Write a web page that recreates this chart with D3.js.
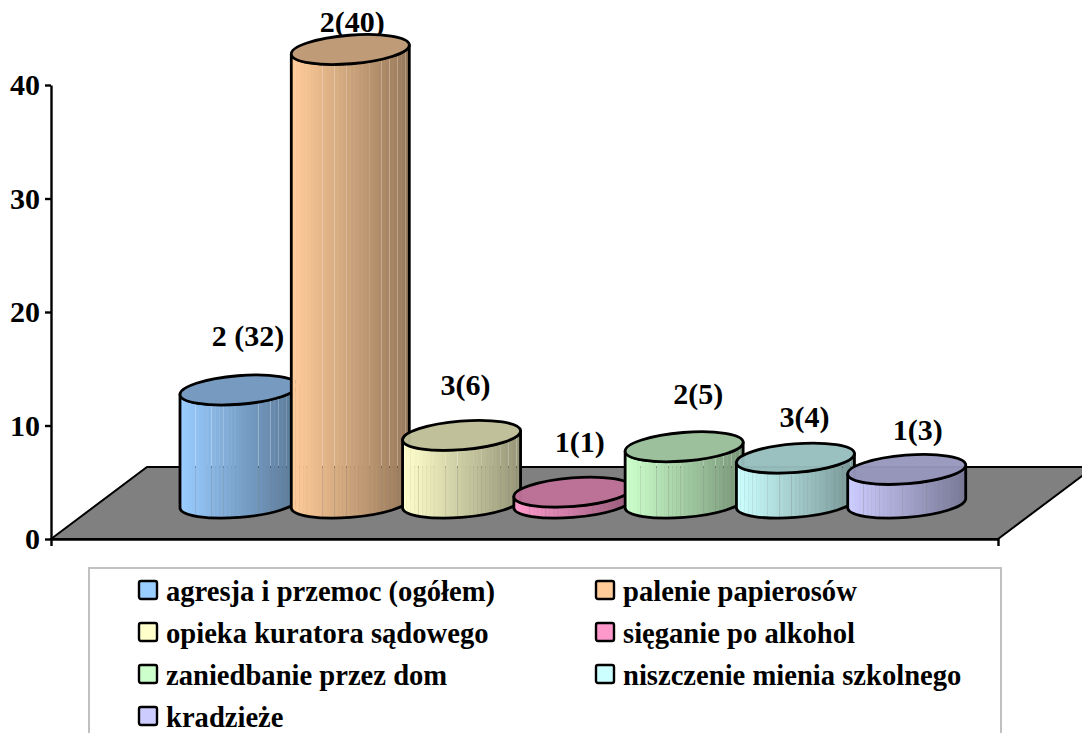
<!DOCTYPE html>
<html>
<head>
<meta charset="utf-8">
<script src="https://cdn.jsdelivr.net/npm/d3@7"></script>
<style>
html, body { margin: 0; padding: 0; background: #fff; overflow: hidden; }
text { font-family: "Liberation Serif", "Times New Roman", serif; font-weight: bold; fill: #000; }
</style>
</head>
<body>
<div id="chart"></div>
<script>
// values
var categories = ["agresja i przemoc (ogółem)", "palenie papierosów", "opieka kuratora sądowego",
    "sięganie po alkohol", "zaniedbanie przez dom", "niszczenie mienia szkolnego", "kradzieże"];
var values = [10, 40, 6, 1, 5, 4, 3];
var labels = ["2 (32)", "2(40)", "3(6)", "1(1)", "2(5)", "3(4)", "1(3)"];
var colors = ["#99CCFF", "#FFCC99", "#FFFFCC", "#FF99CC", "#CCFFCC", "#CCFFFF", "#CCCCFF"];
var yTicks = [0, 10, 20, 30, 40];

var width = 1082, height = 733;
var svg = d3.select("#chart").append("svg")
    .attr("width", width)
    .attr("height", height)
    .style("display", "block");

var y = d3.scaleLinear().domain([0, 40]).range([539, 85]);
var x = d3.scaleBand().domain(categories).range([180, 959]);
var floorX = d3.scaleLinear().range([51, 998]);

// floor
var floorDepth = { dx: 96, dy: 72 };
var y0 = y(0);
svg.append("path")
    .attr("d", d3.line()([[51, y0], [51 + floorDepth.dx, y0 - floorDepth.dy],
        [998 + floorDepth.dx, y0 - floorDepth.dy], [998, y0]]) + "Z")
    .attr("fill", "#808080")
    .attr("stroke", "#000")
    .attr("stroke-width", 2);

// axes
var axisY = svg.append("g")
    .attr("transform", "translate(51,0)")
    .call(d3.axisLeft(y).tickValues(yTicks).tickFormat(d3.format("d")).tickSize(6).tickSizeOuter(0).tickPadding(5));
axisY.selectAll("text").attr("font-size", 30).style("font-family", "Liberation Serif").style("font-weight", "bold");
var axisX = svg.append("g")
    .attr("transform", "translate(0," + y0 + ")")
    .call(d3.axisBottom(floorX).tickValues([]).tickSizeOuter(7));
svg.selectAll(".domain, .tick line").attr("stroke", "#000").attr("stroke-width", 2.4);

// data labels (behind the cylinders, 2(40) runs into its top)
var labelDx = [9, 2, 4, 7, 14, 9, 11];
var labelGap = [44.5, 18, 40.5, 40, 42.5, 31.5, 29.5];

var cylW = 59, cylB = 14.3, tilt = -4.6, lean = 4.5;
var baseY = y0 - 35.5;
var cx = function(d) { return x(d) + cylW; };
var barH = function(v) { return y0 - y(v); };

svg.append("g").selectAll("text")
    .data(categories)
    .enter().append("text")
    .attr("x", function(d, i) { return cx(d) + labelDx[i]; })
    .attr("y", function(d, i) { return baseY - barH(values[i]) - labelGap[i]; })
    .attr("text-anchor", "middle")
    .attr("font-size", 30)
    .text(function(d, i) { return labels[i]; });

// cylinders, later ones sit over earlier ones
var nStrips = 30;
var seams = [3, 7, 10, 13, 19, 22, 24, 26, 28];
var defs = svg.append("defs");

function sidePath(c, top) {
    var a = cylW + 0.2;
    return "M" + (c - cylW) + "," + (top + lean)
        + "L" + (c - cylW) + "," + (baseY + lean)
        + "A" + a + "," + cylB + " " + tilt + " 0 0 " + (c + cylW) + "," + (baseY - lean)
        + "L" + (c + cylW) + "," + (top - lean)
        + "A" + a + "," + cylB + " " + tilt + " 0 1 " + (c - cylW) + "," + (top + lean) + "Z";
}

categories.forEach(function(cat, i) {
    var c = cx(cat);
    var top = baseY - barH(values[i]);
    var g = svg.append("g");
    var shade = d3.interpolateRgb(colors[i], "#000");

    defs.append("clipPath").attr("id", "side" + i)
        .append("path").attr("d", sidePath(c, top));

    var stripW = (cylW * 2) / nStrips;
    g.append("g").attr("clip-path", "url(#side" + i + ")")
        .selectAll("rect")
        .data(d3.range(nStrips))
        .enter().append("rect")
        .attr("x", function(k) { return c - cylW + k * stripW; })
        .attr("y", top - 30)
        .attr("width", function(k) { return seams.indexOf(k) >= 0 ? stripW - 0.1 : stripW + 0.4; })
        .attr("height", barH(values[i]) + 60)
        .attr("fill", function(k) { return shade(k / nStrips * 0.42); });

    g.append("path")
        .attr("d", sidePath(c, top))
        .attr("fill", "none")
        .attr("stroke", "#000")
        .attr("stroke-width", 2.8)
        .attr("stroke-linejoin", "round");

    g.append("ellipse")
        .attr("rx", cylW + 0.2)
        .attr("ry", cylB)
        .attr("transform", "translate(" + c + "," + top + ") rotate(" + tilt + ")")
        .attr("fill", shade(0.26))
        .attr("fill-opacity", 0.96)
        .attr("stroke", "#000")
        .attr("stroke-width", 2.8);
});

// legend, runs off the bottom of the picture
svg.append("rect")
    .attr("x", 89).attr("y", 568)
    .attr("width", 912).attr("height", 200)
    .attr("fill", "#fff")
    .attr("stroke", "#c0c0c0")
    .attr("stroke-width", 2);

var legendCol = [139, 596];
var legendRow = d3.scalePoint().domain([0, 1, 2, 3]).range([590, 716]);
var legend = svg.append("g").selectAll("g")
    .data(categories)
    .enter().append("g")
    .attr("transform", function(d, i) {
        return "translate(" + legendCol[i % 2] + "," + legendRow(Math.floor(i / 2)) + ")";
    });
legend.append("rect")
    .attr("x", 0).attr("y", -9)
    .attr("width", 18).attr("height", 18)
    .attr("rx", 2)
    .attr("fill", function(d, i) { return colors[i]; })
    .attr("stroke", "#000")
    .attr("stroke-width", 2.4);
legend.append("text")
    .attr("x", 27)
    .attr("y", 11)
    .attr("font-size", 28.6)
    .text(function(d) { return d; });
</script>
</body>
</html>
